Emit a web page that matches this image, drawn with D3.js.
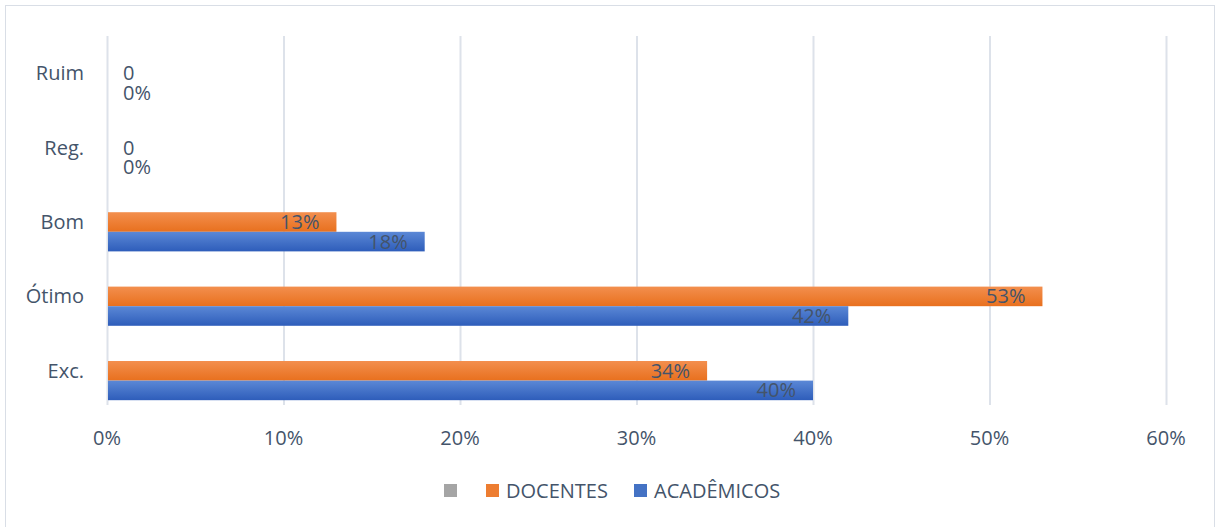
<!DOCTYPE html>
<html>
<head>
<meta charset="utf-8">
<script src="https://cdn.jsdelivr.net/npm/d3@7"></script>
<style>
  body { margin: 0; background: #fff; }
  svg { display: block; font-family: "Open Sans", sans-serif; }
</style>
</head>
<body>
<div id="chart"></div>
<script>
// Categories, top to bottom as drawn
var categories = ["Ruim", "Reg.", "Bom", "Ótimo", "Exc."];
// Series values (%), same order as categories
var semNome = [0, 0, 0, 0, 0];        // unnamed gray series, empty
var docentes = [0, 0, 13, 53, 34];
var academicos = [0, 0, 18, 42, 40];
var ticks = [0, 10, 20, 30, 40, 50, 60];

var width = 1216, height = 527;
var textColor = "#44546A";

var svg = d3.select("#chart").append("svg")
    .attr("width", width)
    .attr("height", height);

// outer frame
svg.append("rect")
    .attr("x", 5.5).attr("y", 5.5)
    .attr("width", 1209).attr("height", 530)
    .attr("fill", "none")
    .attr("stroke", "#D9DEE6");

var x = d3.scaleLinear().domain([0, 60]).range([107, 1166]);
var y = d3.scaleBand().domain(categories).range([36, 408]).paddingInner(0.21).paddingOuter(0.105);
var sub = d3.scaleBand().domain(["", "DOCENTES", "ACADÊMICOS"]).range([0, y.bandwidth()]);

// gradients
var defs = svg.append("defs");
function grad(id, top, bottom) {
    var g = defs.append("linearGradient").attr("id", id)
        .attr("x1", 0).attr("y1", 0).attr("x2", 0).attr("y2", 1);
    g.append("stop").attr("offset", "0%").attr("stop-color", top);
    g.append("stop").attr("offset", "100%").attr("stop-color", bottom);
}
grad("gGray", "#B5B5B5", "#959595");
grad("gOrange", "#F38F4E", "#E8701E");
grad("gBlue", "#5B88D6", "#2E5DBA");

// gridlines
svg.append("g").selectAll("line")
    .data(ticks)
    .enter().append("line")
    .attr("x1", d => x(d) + 0.5).attr("x2", d => x(d) + 0.5)
    .attr("y1", 36).attr("y2", 405)
    .attr("stroke", "#DDE2EA")
    .attr("stroke-width", 2);

// x tick labels
svg.append("g").selectAll("text")
    .data(ticks)
    .enter().append("text")
    .attr("x", d => x(d))
    .attr("y", 445)
    .attr("text-anchor", "middle")
    .attr("font-size", "20px")
    .attr("fill", textColor)
    .text(d => d + "%");

// y category labels
svg.append("g").selectAll("text")
    .data(categories)
    .enter().append("text")
    .attr("x", 84)
    .attr("y", d => y(d) + y.bandwidth() / 2 + 7)
    .attr("text-anchor", "end")
    .attr("font-size", "20px")
    .attr("fill", textColor)
    .text(d => d);

var series = [
    { name: "", values: semNome, fill: "url(#gGray)", labels: false },
    { name: "DOCENTES", values: docentes, fill: "url(#gOrange)", zero: "0", labels: true },
    { name: "ACADÊMICOS", values: academicos, fill: "url(#gBlue)", zero: "0%", labels: true }
];

series.forEach(function (s) {
    var g = svg.append("g");
    g.selectAll("rect")
        .data(categories)
        .enter().append("rect")
        .attr("x", x(0) + 1)
        .attr("y", d => y(d) + sub(s.name))
        .attr("width", (d, i) => Math.max(0, x(s.values[i]) - x(0) - 1))
        .attr("height", sub.bandwidth())
        .attr("fill", s.fill);

    if (!s.labels) return;
    g.selectAll("text")
        .data(categories)
        .enter().append("text")
        .attr("x", (d, i) => s.values[i] === 0 ? x(0) + 16 : x(s.values[i]) - 17)
        .attr("y", d => y(d) + sub(s.name) + sub.bandwidth() / 2 + 7)
        .attr("text-anchor", (d, i) => s.values[i] === 0 ? "start" : "end")
        .attr("font-size", "20px")
        .attr("fill", textColor)
        .text((d, i) => s.values[i] === 0 ? s.zero : s.values[i] + "%");
});

// legend
var legendData = [
    { label: "", color: "#A5A5A5", x: 444 },
    { label: "DOCENTES", color: "#ED7D31", x: 486 },
    { label: "ACADÊMICOS", color: "#4472C4", x: 634 }
];
var legend = svg.append("g");
legendData.forEach(function (item) {
    legend.append("rect")
        .attr("x", item.x).attr("y", 484)
        .attr("width", 13).attr("height", 13)
        .attr("fill", item.color);
    legend.append("text")
        .attr("x", item.x + 20)
        .attr("y", 498)
        .attr("font-size", "20px")
        .attr("fill", textColor)
        .text(item.label);
});
</script>
</body>
</html>
